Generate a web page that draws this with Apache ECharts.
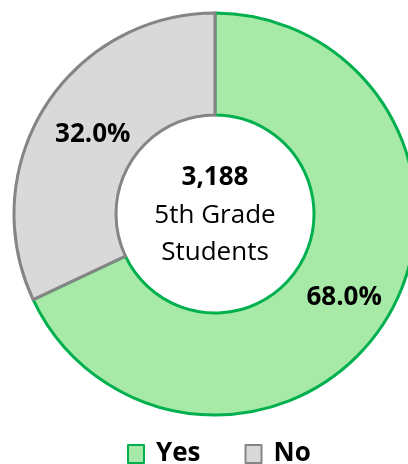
<!DOCTYPE html>
<html><head><meta charset="utf-8">
<script src="https://cdn.jsdelivr.net/npm/echarts@6/dist/echarts.min.js"></script>
<style>html,body{margin:0;padding:0;background:#fff}#c{width:408px;height:464px}</style>
</head><body><div id="c"></div>
<script>
const categories = ["Yes", "No"];
const values = [68.0, 32.0];
const totalStudents = "3,188";
const centerLines = ["5th Grade", "Students"];

const fills = ["#A7E9A7", "#D9D9D9"];
const borders = ["#00B04F", "#858585"];
const FONT = "'Open Sans', 'Liberation Sans', sans-serif";
const labelOffsets = [[0, 2], [7, 3]];

const chart = echarts.init(document.getElementById('c'), null, {renderer: 'canvas'});
chart.setOption({
  animation: false,
  legend: {
    top: 441,
    left: 127,
    padding: 0,
    itemWidth: 16,
    itemHeight: 18,
    itemGap: 44,
    icon: 'rect',
    textStyle: {fontFamily: FONT, fontWeight: 'bold', fontSize: 26, color: '#000', padding: [0, 0, 0, 7], lineHeight: 26},
    data: categories
  },
  graphic: [{
    type: 'text',
    x: 215, y: 215,
    style: {
      text: '{a|' + totalStudents + '}\n{b|' + centerLines[0] + '}\n{b|' + centerLines[1] + '}',
      align: 'center', verticalAlign: 'middle',
      rich: {
        a: {fontFamily: FONT, fontWeight: 'bold', fontSize: 26, lineHeight: 38, fill: '#000'},
        b: {fontFamily: FONT, fontSize: 26, lineHeight: 37, fill: '#000'}
      }
    }
  }],
  series: [{
    type: 'pie',
    center: [215, 214],
    radius: [99, 201],
    startAngle: 90,
    clockwise: true,
    label: {
      show: true,
      position: 'inside',
      formatter: p => p.value.toFixed(1) + '%',
      fontFamily: FONT, fontWeight: 'bold', fontSize: 26, color: '#000'
    },
    labelLine: {show: false},
    emphasis: {disabled: true},
    data: categories.map((c, i) => ({
      name: c, value: values[i],
      label: {offset: labelOffsets[i]},
      itemStyle: {color: fills[i], borderColor: borders[i], borderWidth: 3}
    }))
  }]
});
</script></body></html>
